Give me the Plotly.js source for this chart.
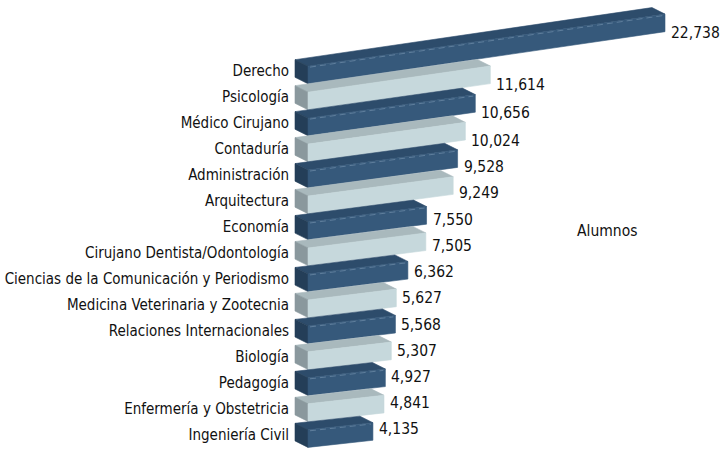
<!DOCTYPE html>
<html>
<head>
<meta charset="utf-8">
<script src="https://cdn.plot.ly/plotly-3.0.1.min.js"></script>
<style>
  html, body { margin: 0; padding: 0; background: #ffffff; }
  #chart { width: 724px; height: 452px; }
</style>
</head>
<body>
<div id="chart"></div>
<script>
// ---- Data ----
const categories = [
  "Derecho",
  "Psicología",
  "Médico Cirujano",
  "Contaduría",
  "Administración",
  "Arquitectura",
  "Economía",
  "Cirujano Dentista/Odontología",
  "Ciencias de la Comunicación y Periodismo",
  "Medicina Veterinaria y Zootecnia",
  "Relaciones Internacionales",
  "Biología",
  "Pedagogía",
  "Enfermería y Obstetricia",
  "Ingeniería Civil"
];
const values = [22738, 11614, 10656, 10024, 9528, 9249, 7550, 7505, 6362, 5627, 5568, 5307, 4927, 4841, 4135];
const seriesName = "Alumnos";

// ---- Layout geometry (pixels) ----
const W = 724, H = 452;
const ML = 292;              // left margin (tick labels live here)
const X0PX = 308;            // pixel of value 0 (front face start)
const PX_PER_VAL = 0.0157;   // horizontal scale
const ROW0 = 75;             // pixel y of first row centre
const ROW_STEP = 25.97;      // pixel distance between rows
const FACE_H = 17.6;         // front face height
const DEPTH_X = -13, DEPTH_Y = -6.5; // oblique depth offset
const SLOPE0 = 0.146, SLOPE1 = 0.0026; // rise per px of length (row dependent)

const FONT = '"DejaVu Sans Condensed", "Liberation Sans Narrow", "Roboto", sans-serif';
const FS_TICK = 15;
const FS_VAL = 15.5;

const darkPal  = { front: '#36597b', top: '#2d4c6b', side: '#243e58' };
const lightPal = { front: '#c6d8dc', top: '#a9b9bd', side: '#8a989d' };

const pxX = p => p / PX_PER_VAL;   // px length -> value units
const pxY = p => p / ROW_STEP;     // px length -> row units

const traces = [];
const annotations = [];

function poly(pts, color) {
  const xs = pts.map(p => p[0]); const ys = pts.map(p => p[1]);
  xs.push(pts[0][0]); ys.push(pts[0][1]);
  traces.push({
    type: 'scatter', mode: 'lines', x: xs, y: ys,
    fill: 'toself', fillcolor: color,
    line: { color: color, width: 0.6 },
    hoverinfo: 'skip', showlegend: false
  });
}

values.forEach((v, i) => {
  const pal = (i % 2 === 0) ? darkPal : lightPal;
  const s = (SLOPE0 - SLOPE1 * i) * PX_PER_VAL / ROW_STEP; // rows per value
  const topR = i - pxY(FACE_H / 2);
  const botR = i + pxY(FACE_H / 2);
  const dx = pxX(DEPTH_X), dy = pxY(DEPTH_Y);
  const A = [0, topR], B = [v, topR - s * v], C = [v, botR - s * v], D = [0, botR];
  const Ad = [A[0] + dx, A[1] + dy], Bd = [B[0] + dx, B[1] + dy], Dd = [D[0] + dx, D[1] + dy];
  poly([A, B, Bd, Ad], pal.top);
  poly([Ad, A, D, Dd], pal.side);
  poly([A, B, C, D], pal.front);
  if (i % 2 === 0) {
    const off = pxY(1.2);
    traces.push({
      type: 'scatter', mode: 'lines',
      x: [pxX(2), v - pxX(2)],
      y: [topR + off - s * pxX(2), topR + off - s * (v - pxX(2))],
      line: { color: 'rgba(140,166,192,0.6)', width: 0.8, dash: '6px,4px' },
      hoverinfo: 'skip', showlegend: false
    });
  }
  // value label
  const lenPx = v * PX_PER_VAL;
  const offPx = Math.max(-4, Math.min(9, 0.13 * (lenPx - 92)));
  annotations.push({
    x: v + pxX(4), y: i - s * v + pxY(offPx + 1),
    xref: 'x', yref: 'y', xanchor: 'left', yanchor: 'middle',
    text: v.toLocaleString('en-US'), showarrow: false,
    font: { family: FONT, size: FS_VAL, color: '#111111' }
  });
});

annotations.push({
  xref: 'paper', yref: 'paper',
  x: (575 - ML) / (W - ML), y: 1 - 231 / H,
  xanchor: 'left', yanchor: 'middle',
  text: seriesName, showarrow: false,
  font: { family: FONT, size: FS_VAL, color: '#111111' }
});

const layout = {
  width: W, height: H,
  margin: { l: ML, r: 0, t: 0, b: 0, pad: 0 },
  paper_bgcolor: '#ffffff', plot_bgcolor: '#ffffff',
  showlegend: false,
  xaxis: {
    range: [pxX(ML - X0PX), pxX(W - X0PX)],
    showgrid: false, zeroline: false, showline: false,
    showticklabels: false, ticks: '', fixedrange: true
  },
  yaxis: {
    range: [pxY(H - ROW0), pxY(0 - ROW0)],
    showgrid: false, zeroline: false, showline: false,
    tickmode: 'array',
    tickvals: categories.map((c, i) => i - pxY(4)),
    ticktext: categories,
    ticks: '', ticklabelstandoff: 2,
    tickfont: { family: FONT, size: FS_TICK, color: '#111111' },
    automargin: false, fixedrange: true
  },
  annotations: annotations
};

Plotly.newPlot('chart', traces, layout, { displayModeBar: false, staticPlot: true });
</script>
</body>
</html>
